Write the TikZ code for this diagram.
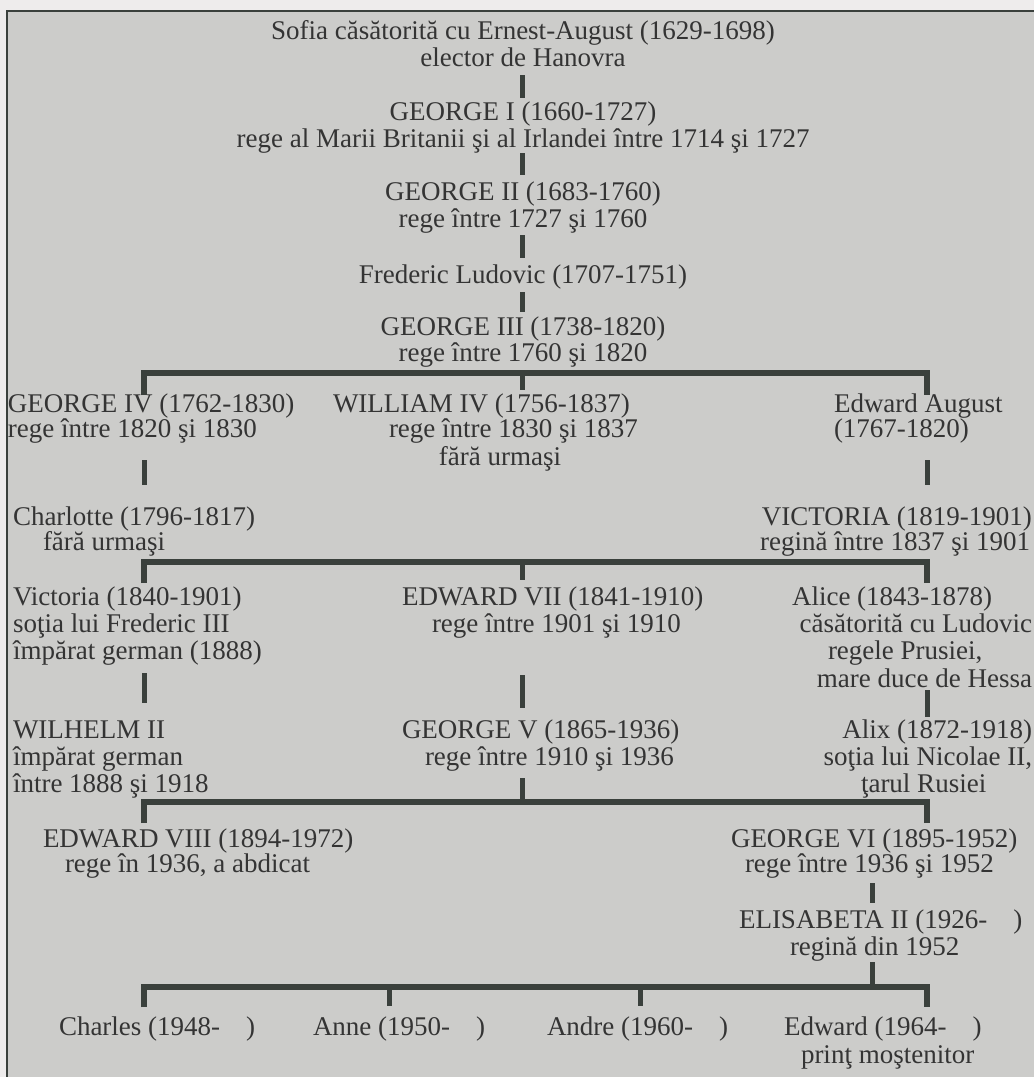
\documentclass[tikz,border=0pt]{standalone}
\usepackage{fontspec}
\setmainfont{Liberation Serif}
\definecolor{paper}{RGB}{204,204,202}
\definecolor{margin}{RGB}{238,236,236}
\definecolor{ink}{RGB}{52,52,52}
\definecolor{rule}{RGB}{58,64,60}
\begin{document}
\begin{tikzpicture}[x=1pt,y=-1pt,
  lbl/.style={inner sep=0pt, outer sep=0pt, text=ink, font=\fontsize{27}{28}\selectfont},
  lw/.style={lbl, anchor=base west},
  le/.style={lbl, anchor=base east},
  lc/.style={lbl, anchor=base},
  stem/.style={draw=rule, line width=5pt},
  bar/.style={draw=rule, line width=6pt, line join=miter},
  edge/.style={draw=rule, line width=2pt}]
\useasboundingbox (0,0) rectangle (1034,1077);
% sheet and its border
\fill[margin] (0,0) rectangle (1034,1077);
\fill[paper] (7,11) rectangle (1034,1077);
\coordinate (fb) at (7,1077);
\coordinate (fc) at (7,11);
\coordinate (fr) at (1034,11);
\draw[edge] (fb) -- (fc) -- (fr);

% ---- central line of descent
\node[lc] (sofA) at (523,39) {Sofia căsătorită cu Ernest-August (1629-1698)};
\node[lc] (sofB) at (523,66) {elector de Hanovra};
\node[lc] (g1a) at (523,120) {GEORGE I (1660-1727)};
\node[lc] (g1b) at (523,147) {rege al Marii Britanii şi al Irlandei între 1714 şi 1727};
\node[lc] (g2a) at (523,200) {GEORGE II (1683-1760)};
\node[lc] (g2b) at (523,227) {rege între 1727 şi 1760};
\node[lc] (fl) at (523,283) {Frederic Ludovic (1707-1751)};
\node[lc] (g3a) at (523,335) {GEORGE III (1738-1820)};
\node[lc] (g3b) at (523,361) {rege între 1760 şi 1820};

% ---- children of George III
\node[lw] (g4a) at (8,412) {GEORGE IV (1762-1830)};
\node[lw] (g4b) at (8,437) {rege între 1820 şi 1830};
\node[lw] (w4a) at (333,412) {WILLIAM IV (1756-1837)};
\node[lw] (w4b) at (389,437) {rege între 1830 şi 1837};
\node[lc] (w4c) at (500,465) {fără urmaşi};
\node[lw] (eaa) at (834,412) {Edward August};
\node[lw] (eab) at (834,437) {(1767-1820)};

\node[lw] (cha) at (13,525) {Charlotte (1796-1817)};
\node[lw] (chb) at (43,550) {fără urmaşi};
\node[le] (via) at (1032,525) {VICTORIA (1819-1901)};
\node[le] (vib) at (1030,550) {regină între 1837 şi 1901};

% ---- children of Victoria
\node[lw] (v2a) at (13,605) {Victoria (1840-1901)};
\node[lw] (v2b) at (13,632) {soţia lui Frederic III};
\node[lw] (v2c) at (13,659) {împărat german (1888)};
\node[lw] (e7a) at (402,605) {EDWARD VII (1841-1910)};
\node[lw] (e7b) at (432,632) {rege între 1901 şi 1910};
\node[lw] (ala) at (792,605) {Alice (1843-1878)};
\node[le] (alb) at (1032,632) {căsătorită cu Ludovic};
\node[lw] (alc) at (828,659) {regele Prusiei,};
\node[le] (ald) at (1032,687) {mare duce de Hessa};

\node[lw] (wia) at (13,738) {WILHELM II};
\node[lw] (wib) at (13,765) {împărat german};
\node[lw] (wic) at (13,792) {între 1888 şi 1918};
\node[lw] (g5a) at (402,738) {GEORGE V (1865-1936)};
\node[lw] (g5b) at (425,765) {rege între 1910 şi 1936};
\node[le] (axa) at (1032,738) {Alix (1872-1918)};
\node[le] (axb) at (1032,765) {soţia lui Nicolae II,};
\node[lw] (axc) at (861,792) {ţarul Rusiei};

% ---- children of George V
\node[lw] (e8a) at (43,847) {EDWARD VIII (1894-1972)};
\node[lw] (e8b) at (65,872) {rege în 1936, a abdicat};
\node[lw] (g6a) at (731,847) {GEORGE VI (1895-1952)};
\node[lw] (g6b) at (745,872) {rege între 1936 şi 1952};
\node[lw] (e2a) at (739,928) {ELISABETA II (1926-\hspace{26pt})};
\node[lw] (e2b) at (790,955) {regină din 1952};

% ---- children of Elisabeta II
\node[lw] (chs) at (59,1035) {Charles (1948-\hspace{26pt})};
\node[lw] (ann) at (313,1035) {Anne (1950-\hspace{26pt})};
\node[lw] (andr) at (547,1035) {Andre (1960-\hspace{26pt})};
\node[lw] (edw) at (784,1035) {Edward (1964-\hspace{26pt})};
\node[lw] (prn) at (801,1063) {prinţ moştenitor};

% ---- connector end points
\coordinate (s1t) at (522,75);  \coordinate (s1b) at (522,98);
\coordinate (s2t) at (522,153); \coordinate (s2b) at (522,175);
\coordinate (s3t) at (522,235); \coordinate (s3b) at (522,258);
\coordinate (s4t) at (522,292); \coordinate (s4b) at (522,312);

\coordinate (b1l) at (144,373); \coordinate (b1r) at (927,373);
\coordinate (b1m) at (522,373);
\coordinate (d1l) at (144,395); \coordinate (d1r) at (927,395);
\coordinate (d1m) at (522,390);

\coordinate (s5t) at (144,460); \coordinate (s5b) at (144,485);
\coordinate (s6t) at (927,460); \coordinate (s6b) at (927,485);

\coordinate (b2l) at (144,562); \coordinate (b2r) at (927,562);
\coordinate (b2m) at (522,562);
\coordinate (d2l) at (144,583); \coordinate (d2r) at (927,583);
\coordinate (d2m) at (522,580);

\coordinate (s7t) at (144,673); \coordinate (s7b) at (144,703);
\coordinate (s8t) at (522,675); \coordinate (s8b) at (522,708);
\coordinate (s9t) at (927,690); \coordinate (s9b) at (927,717);

\coordinate (s10t) at (522,778);
\coordinate (b3l) at (144,802); \coordinate (b3r) at (927,802);
\coordinate (b3m) at (522,802);
\coordinate (d3l) at (144,823); \coordinate (d3r) at (927,823);

\coordinate (s11t) at (872,883); \coordinate (s11b) at (872,903);
\coordinate (s12t) at (872,962);

\coordinate (b4l) at (144,987); \coordinate (b4r) at (927,987);
\coordinate (b4m) at (872,987);
\coordinate (b4a) at (389,987); \coordinate (b4b) at (640,987);
\coordinate (d4l) at (144,1007); \coordinate (d4r) at (927,1007);
\coordinate (d4a) at (389,1006); \coordinate (d4b) at (640,1006);

% ---- connectors
\draw[stem] (s1t) -- (s1b);
\draw[stem] (s2t) -- (s2b);
\draw[stem] (s3t) -- (s3b);
\draw[stem] (s4t) -- (s4b);

\draw[bar] (d1l) -- (b1l) -- (b1r) -- (d1r);
\draw[stem] (b1m) -- (d1m);
\draw[stem] (s5t) -- (s5b);
\draw[stem] (s6t) -- (s6b);

\draw[bar] (d2l) -- (b2l) -- (b2r) -- (d2r);
\draw[stem] (b2m) -- (d2m);
\draw[stem] (s7t) -- (s7b);
\draw[stem] (s8t) -- (s8b);
\draw[stem] (s9t) -- (s9b);

\draw[stem] (s10t) -- (b3m);
\draw[bar] (d3l) -- (b3l) -- (b3r) -- (d3r);
\draw[stem] (s11t) -- (s11b);
\draw[stem] (s12t) -- (b4m);

\draw[bar] (d4l) -- (b4l) -- (b4r) -- (d4r);
\draw[stem] (b4a) -- (d4a);
\draw[stem] (b4b) -- (d4b);
\end{tikzpicture}
\end{document}
